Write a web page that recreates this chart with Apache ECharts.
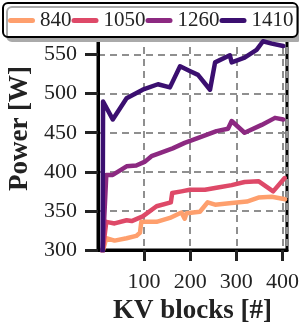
<!DOCTYPE html>
<html><head><meta charset="utf-8">
<script src="https://cdn.jsdelivr.net/npm/echarts@6/dist/echarts.min.js"></script>
<style>html,body{margin:0;padding:0;background:#fff}#c{width:299px;height:327px}</style>
</head><body><div id="c"></div>
<script>
var seriesNames = ['840', '1050', '1260', '1410'];
var x840 = [10, 18, 36, 62, 83, 91, 94, 127, 156, 181, 188, 192, 221, 238, 254, 290, 323, 348, 377, 406];
var y840 = [298, 315, 312, 315, 318, 322, 336, 336, 341, 348, 340, 347, 349, 361, 358, 360, 362, 367, 368, 365];
var x1050 = [10, 18, 36, 62, 73, 97, 127, 158, 161, 181, 199, 232, 260, 290, 318, 348, 380, 405];
var y1050 = [298, 336, 334, 338, 337, 343, 356, 361, 373, 375, 377, 377, 380, 383, 387, 388, 375, 392];
var x1260 = [10, 18, 32, 62, 83, 102, 116, 134, 162, 188, 225, 257, 282, 290, 318, 355, 384, 402];
var y1260 = [298, 396, 396, 407, 408, 413, 420, 424, 430, 437, 445, 452, 455, 465, 450, 460, 469, 467];
var x1410 = [10, 11, 32, 62, 97, 130, 156, 178, 199, 217, 243, 254, 286, 290, 318, 344, 358, 377, 402];
var y1410 = [298, 490, 467, 494, 505, 512, 508, 535, 529, 524, 505, 540, 549, 540, 546, 556, 567, 564, 561];
var xTickLabels = ['100', '200', '300', '400'];
var yTickLabels = ['300', '350', '400', '450', '500', '550'];
var colors = ['#fe9f6d', '#de4968', '#8c2981', '#3b0f70'];

function pairs(xs, ys) { return xs.map(function (v, i) { return [v, ys[i]]; }); }
var allData = [pairs(x840, y840), pairs(x1050, y1050), pairs(x1260, y1260), pairs(x1410, y1410)];

var font = '"Liberation Serif", "Times New Roman", serif';
var chart = echarts.init(document.getElementById('c'), null, {renderer: 'canvas'});
chart.setOption({
  animation: false,
  grid: {left: 98, right: 12, top: 35, bottom: 77, outerBoundsMode: 'none', containLabel: false,
         show: true, borderColor: '#000', borderWidth: 3, backgroundColor: 'transparent'},
  legend: {
    left: 3, top: 3,
    padding: [7, 4, 6, 5],
    itemGap: 0,
    itemWidth: 27, itemHeight: 5,
    icon: 'path://M2.5,0 L24.5,0 A2.5,2.5 0 0 1 24.5,5 L2.5,5 A2.5,2.5 0 0 1 2.5,0 Z',
    backgroundColor: '#fff',
    borderColor: '#000', borderWidth: 2, borderRadius: 5,
    shadowColor: '#aaa', shadowBlur: 0, shadowOffsetX: 4, shadowOffsetY: 4,
    textStyle: {fontFamily: font, fontSize: 21, color: '#222'},
    data: seriesNames
  },
  xAxis: {
    type: 'value', min: 0, max: 410, interval: 100,
    name: 'KV blocks [#]', nameLocation: 'middle', nameGap: 44,
    nameTextStyle: {fontFamily: font, fontSize: 27, fontWeight: 'bold', color: '#222'},
    axisLine: {show: true, lineStyle: {color: '#000', width: 3}},
    axisTick: {show: true, length: 11, lineStyle: {color: '#222', width: 3}},
    axisLabel: {fontFamily: font, fontSize: 22, color: '#222', margin: 21, showMinLabel: false, showMaxLabel: false,
      formatter: function (v) { return xTickLabels.indexOf(String(v)) >= 0 ? String(v) : ''; }},
    splitLine: {show: true, lineStyle: {color: '#8f8f8f', width: 2, type: [7, 5]}}
  },
  yAxis: {
    type: 'value', min: 300, max: 575, interval: 50,
    name: 'Power [W]', nameLocation: 'middle', nameGap: 64,
    nameTextStyle: {fontFamily: font, fontSize: 27, fontWeight: 'bold', color: '#222', padding: [0, 0, 0, 28]},
    axisLine: {show: true, lineStyle: {color: '#000', width: 3}},
    axisTick: {show: true, length: 13, lineStyle: {color: '#222', width: 3}},
    axisLabel: {fontFamily: font, fontSize: 22, color: '#222', margin: 21, showMaxLabel: false,
      formatter: function (v) { return yTickLabels.indexOf(String(v)) >= 0 ? String(v) : ''; }},
    splitLine: {show: true, lineStyle: {color: '#8f8f8f', width: 2, type: [7, 5]}}
  },
  series: seriesNames.map(function (n, i) {
    return {
      name: n, type: 'line', data: allData[i], showSymbol: false, symbol: 'none',
      clip: true, z: 2 + i,
      lineStyle: {color: colors[i], width: 4.5, cap: 'round', join: 'round'},
      itemStyle: {color: colors[i]}
    };
  })
});
</script></body></html>
